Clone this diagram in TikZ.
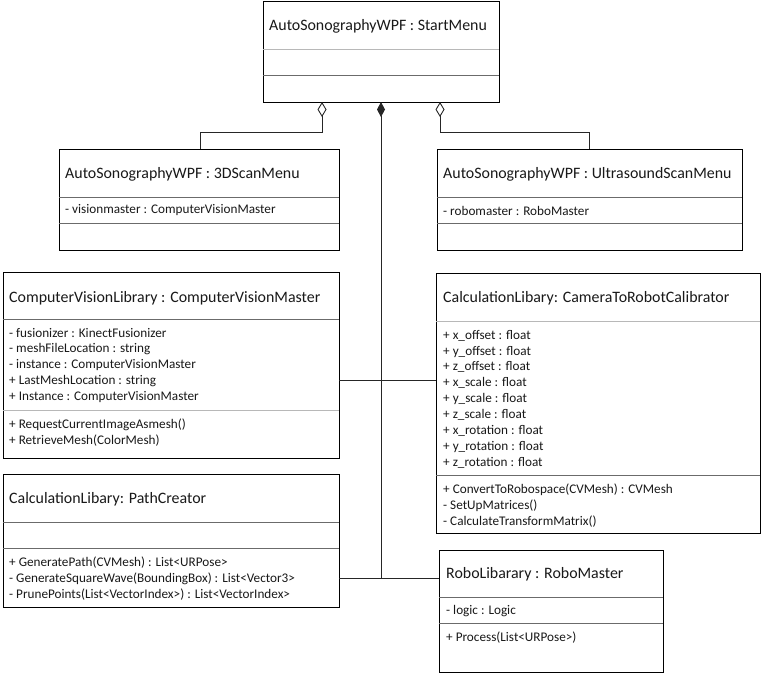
\documentclass[tikz,border=0pt]{standalone}
\usepackage{fontspec}
\setmainfont{Carlito}
\usetikzlibrary{arrows.meta}
\begin{document}
\begin{tikzpicture}[x=1pt,y=-1pt,
  umlbox/.style={draw=black, line width=0.9pt, fill=white, inner sep=0pt, outer sep=0pt, anchor=north west},
  seplight/.style={draw=black!28, line width=1pt},
  sepdark/.style={draw=black!58, line width=0.9pt},
  ttl/.style={anchor=west, inner sep=0pt, yshift=-1pt, text=black!90, font=\fontsize{15.9}{17}\selectfont},
  mem/.style={anchor=west, inner sep=0pt, yshift=-0.5pt, text=black!90, font=\fontsize{13.2}{14}\selectfont},
  conn/.style={draw=black!85, line width=0.9pt},
  aggopen/.style={conn, {Diamond[open, fill=white, length=15pt, width=9pt, line width=0.9pt]}-},
  aggfull/.style={conn, {Diamond[length=15pt, width=8pt]}-}
]
\useasboundingbox (0,0) rectangle (762,673);

% ---- StartMenu
\node[umlbox, minimum width=236pt, minimum height=101pt] (sm) at (263,1) {};
\draw[seplight] (sm.west |- 0,49) -- (sm.east |- 0,49);
\draw[sepdark] (sm.west |- 0,75) -- (sm.east |- 0,75);
\node[ttl] (smT) at (269,25) {AutoSonographyWPF : StartMenu};

% ---- 3DScanMenu
\node[umlbox, minimum width=280pt, minimum height=101pt] (s3d) at (59,149) {};
\draw[sepdark] (s3d.west |- 0,197) -- (s3d.east |- 0,197);
\draw[sepdark] (s3d.west |- 0,223) -- (s3d.east |- 0,223);
\node[ttl] (s3dT) at (65,173) {AutoSonographyWPF : 3DScanMenu};
\node[mem] (s3dA) at (65,210) {- visionmaster : ComputerVisionMaster};

% ---- UltrasoundScanMenu
\node[umlbox, minimum width=305pt, minimum height=101pt] (us) at (437,149) {};
\draw[sepdark] (us.west |- 0,197) -- (us.east |- 0,197);
\draw[sepdark] (us.west |- 0,223) -- (us.east |- 0,223);
\node[ttl] (usT) at (443,173) {AutoSonographyWPF : UltrasoundScanMenu};
\node[mem] (usA) at (443,210) {- robomaster : RoboMaster};

% ---- ComputerVisionMaster
\node[umlbox, minimum width=336pt, minimum height=186pt] (cv) at (3,272) {};
\draw[sepdark] (cv.west |- 0,319) -- (cv.east |- 0,319);
\draw[seplight] (cv.west |- 0,410) -- (cv.east |- 0,410);
\node[ttl] (cvT) at (9,297) {ComputerVisionLibrary : ComputerVisionMaster};
\node[mem] (cvA1) at (9,333) {- fusionizer : KinectFusionizer};
\node[mem] (cvA2) at (9,349) {- meshFileLocation : string};
\node[mem] (cvA3) at (9,365) {- instance : ComputerVisionMaster};
\node[mem] (cvA4) at (9,381) {+ LastMeshLocation : string};
\node[mem] (cvA5) at (9,397) {+ Instance : ComputerVisionMaster};
\node[mem] (cvM1) at (9,424) {+ RequestCurrentImageAsmesh()};
\node[mem] (cvM2) at (9,440) {+ RetrieveMesh(ColorMesh)};

% ---- CameraToRobotCalibrator
\node[umlbox, minimum width=324pt, minimum height=260pt] (cal) at (436,273) {};
\draw[seplight] (cal.west |- 0,321) -- (cal.east |- 0,321);
\draw[sepdark] (cal.west |- 0,475) -- (cal.east |- 0,475);
\node[ttl] (calT) at (443,297) {CalculationLibary: CameraToRobotCalibrator};
\node[mem] (calA1) at (443,335) {+ x\_offset : float};
\node[mem] (calA2) at (443,351) {+ y\_offset : float};
\node[mem] (calA3) at (443,366) {+ z\_offset : float};
\node[mem] (calA4) at (443,382) {+ x\_scale : float};
\node[mem] (calA5) at (443,398) {+ y\_scale : float};
\node[mem] (calA6) at (443,414) {+ z\_scale : float};
\node[mem] (calA7) at (443,430) {+ x\_rotation : float};
\node[mem] (calA8) at (443,446) {+ y\_rotation : float};
\node[mem] (calA9) at (443,462) {+ z\_rotation : float};
\node[mem] (calM1) at (443,489) {+ ConvertToRobospace(CVMesh) : CVMesh};
\node[mem] (calM2) at (443,505) {- SetUpMatrices()};
\node[mem] (calM3) at (443,521) {- CalculateTransformMatrix()};

% ---- PathCreator
\node[umlbox, minimum width=336pt, minimum height=133pt] (pc) at (3,474) {};
\draw[sepdark] (pc.west |- 0,522) -- (pc.east |- 0,522);
\draw[sepdark] (pc.west |- 0,548) -- (pc.east |- 0,548);
\node[ttl] (pcT) at (9,498) {CalculationLibary: PathCreator};
\node[mem] (pcM1) at (9,562) {+ GeneratePath(CVMesh) : List<URPose>};
\node[mem] (pcM2) at (9,578) {- GenerateSquareWave(BoundingBox) : List<Vector3>};
\node[mem] (pcM3) at (9,594) {- PrunePoints(List<VectorIndex>) : List<VectorIndex>};

% ---- RoboMaster
\node[umlbox, minimum width=224pt, minimum height=122pt] (rm) at (439,550) {};
\draw[sepdark] (rm.west |- 0,597) -- (rm.east |- 0,597);
\draw[sepdark] (rm.west |- 0,623) -- (rm.east |- 0,623);
\node[ttl] (rmT) at (446,573) {RoboLibarary : RoboMaster};
\node[mem] (rmA) at (446,611) {- logic : Logic};
\node[mem] (rmM) at (446,637) {+ Process(List<URPose>)};

% ---- connectors
\coordinate (aL) at (322,132);
\coordinate (aR) at (440,132);
\coordinate (bL) at (200,132);
\coordinate (bR) at (589,132);
\coordinate (jc) at (381,578);
\coordinate (kc) at (381,380);

\draw[aggopen] (sm.south -| aL) -- (aL) -- (bL) -- (s3d.north -| bL);
\draw[aggopen] (sm.south -| aR) -- (aR) -- (bR) -- (us.north -| bR);
\draw[conn] (cv.east |- kc) -- (cal.west |- kc);
\draw[conn] (pc.east |- jc) -- (rm.west |- jc);
\draw[aggfull] (sm.south -| jc) -- (jc);
\end{tikzpicture}
\end{document}
